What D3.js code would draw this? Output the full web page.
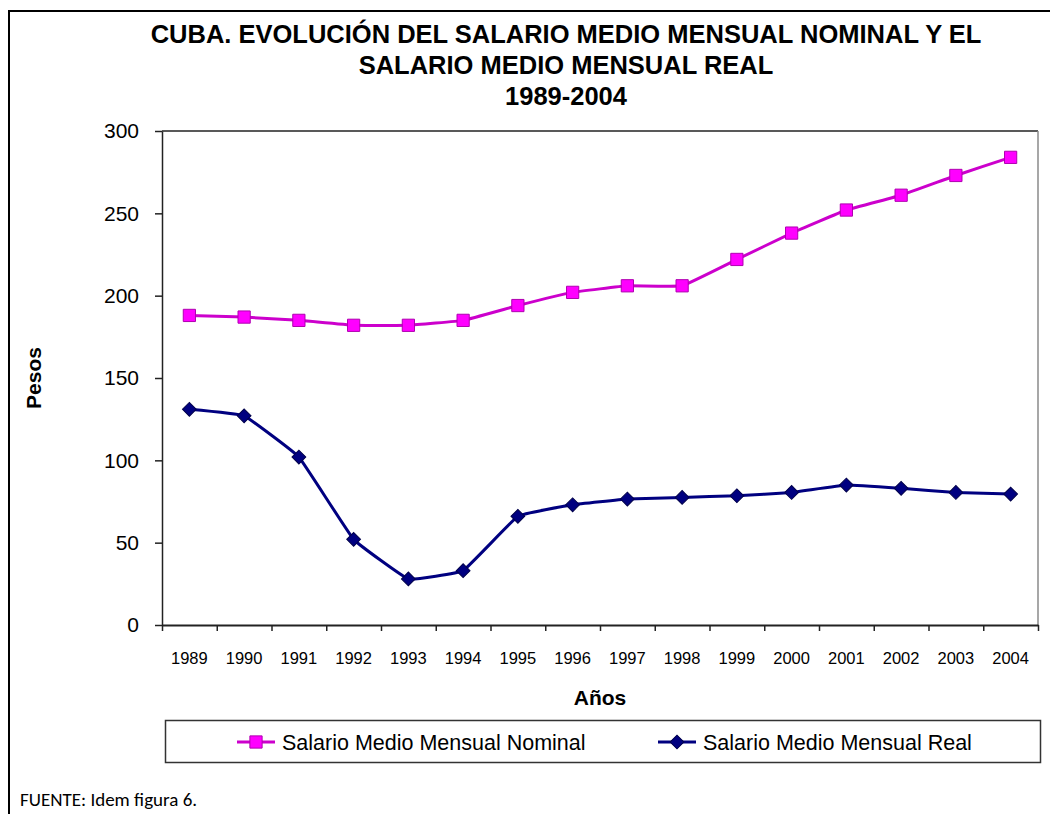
<!DOCTYPE html>
<html>
<head>
<meta charset="utf-8">
<script src="https://cdn.jsdelivr.net/npm/d3@7"></script>
<style>
  body { margin: 0; background: #fff; }
  svg { display: block; }
  text { font-family: "Liberation Sans", Arial, sans-serif; fill: #000; }
</style>
</head>
<body>
<svg width="1050" height="814"></svg>
<script>
// data
var years = ["1989","1990","1991","1992","1993","1994","1995","1996",
             "1997","1998","1999","2000","2001","2002","2003","2004"];
var nominal = [188, 187, 185, 182, 182, 185, 194, 202, 206, 206, 222, 238, 252, 261, 273, 284];
var real = [131, 127, 102, 52, 28, 33, 66, 73, 76.5, 77.5, 78.5, 80.5, 85, 83, 80.5, 79.5];
var yTicks = [0, 50, 100, 150, 200, 250, 300];
var titleLines = ["CUBA. EVOLUCIÓN DEL SALARIO MEDIO MENSUAL NOMINAL Y EL",
                  "SALARIO MEDIO MENSUAL REAL", "1989-2004"];

// diamond = square turned 45 degrees
var series = [
  {name: "Salario Medio Mensual Nominal", values: nominal, line: "#cc00cc", fill: "#ff00ff", edge: "#b000b0", shape: d3.symbolSquare, size: 150, rot: 0},
  {name: "Salario Medio Mensual Real", values: real, line: "#000080", fill: "#000080", edge: "#00004a", shape: d3.symbolSquare, size: 95, rot: 45}
];

var svg = d3.select("svg"),
    width = +svg.attr("width"),
    height = +svg.attr("height");

var plot = {left: 162, right: 1038, top: 131, bottom: 625};

// outer frame (runs off the right and bottom edge in the original)
svg.append("path")
    .attr("d", "M9,820 V11 H1060")
    .attr("fill", "none")
    .attr("stroke", "#000")
    .attr("stroke-width", 2);

// title
svg.append("g").selectAll("text")
    .data(titleLines)
    .enter().append("text")
    .attr("x", 566)
    .attr("y", function(d, i) { return 43 + i * 31; })
    .attr("text-anchor", "middle")
    .style("font-weight", "bold")
    .style("font-size", "25.5px")
    .text(function(d) { return d; });

var x = d3.scaleBand().domain(years).range([plot.left, plot.right]);
var xIdx = d3.scaleLinear().domain([0, years.length]).range([plot.left, plot.right]);
var y = d3.scaleLinear().domain([0, 300]).range([plot.bottom, plot.top]);

function cx(i) { return x(years[i]) + x.bandwidth() / 2; }

// plot area border (top and right)
svg.append("path")
    .attr("d", "M" + plot.left + "," + plot.top + " H" + plot.right)
    .attr("stroke", "#222")
    .attr("stroke-width", 1.5)
    .attr("fill", "none");
svg.append("path")
    .attr("d", "M" + plot.right + "," + plot.top + " V" + plot.bottom)
    .attr("stroke", "#8a8a8a")
    .attr("stroke-width", 1.5)
    .attr("fill", "none");

// y axis
var yAxis = svg.append("g")
    .attr("transform", "translate(" + plot.left + ",0)")
    .call(d3.axisLeft(y).tickValues(yTicks).tickSize(7).tickSizeOuter(0).tickPadding(16));
yAxis.select(".domain").attr("stroke", "#222").attr("stroke-width", 1.5);
yAxis.selectAll(".tick line").attr("stroke", "#222").attr("stroke-width", 1.5);
yAxis.selectAll("text")
    .style("font-size", "21px")
    .style("font-family", "'Liberation Sans', Arial, sans-serif")
    .attr("fill", "#000");

// x axis: tick marks on the category boundaries, labels in the middle
var xTicks = svg.append("g")
    .attr("transform", "translate(0," + plot.bottom + ")")
    .call(d3.axisBottom(xIdx).ticks(years.length).tickSize(6).tickSizeOuter(0).tickFormat(""));
xTicks.select(".domain").attr("stroke", "#222").attr("stroke-width", 2);
xTicks.selectAll(".tick line").attr("stroke", "#222").attr("stroke-width", 1.5);

var xLabels = svg.append("g")
    .attr("transform", "translate(0," + plot.bottom + ")")
    .call(d3.axisBottom(x).tickSize(0).tickPadding(27));
xLabels.select(".domain").remove();
xLabels.selectAll("text")
    .style("font-size", "16.5px")
    .style("font-family", "'Liberation Sans', Arial, sans-serif")
    .attr("fill", "#000");

// axis titles
svg.append("text")
    .attr("x", 600)
    .attr("y", 705)
    .attr("text-anchor", "middle")
    .style("font-weight", "bold")
    .style("font-size", "21px")
    .text("Años");

svg.append("text")
    .attr("transform", "translate(41,378) rotate(-90)")
    .attr("text-anchor", "middle")
    .style("font-weight", "bold")
    .style("font-size", "21px")
    .text("Pesos");

// lines + markers (only lightly smoothed, like the original)
var line = d3.line()
    .x(function(d, i) { return cx(i); })
    .y(function(d) { return y(d); })
    .curve(d3.curveCardinal.tension(0.75));

series.forEach(function(s) {
  svg.append("path")
      .datum(s.values)
      .attr("d", line)
      .attr("fill", "none")
      .attr("stroke", s.line)
      .attr("stroke-width", 3);

  svg.append("g").selectAll("path")
      .data(s.values)
      .enter().append("path")
      .attr("transform", function(d, i) { return "translate(" + cx(i) + "," + y(d) + ") rotate(" + s.rot + ")"; })
      .attr("d", d3.symbol().type(s.shape).size(s.size))
      .attr("fill", s.fill)
      .attr("stroke", s.edge)
      .attr("stroke-width", 1);
});

// legend
var legend = svg.append("g");
legend.append("rect")
    .attr("x", 165.5)
    .attr("y", 720.5)
    .attr("width", 875)
    .attr("height", 42)
    .attr("fill", "#fff")
    .attr("stroke", "#333")
    .attr("stroke-width", 1.5);

var legendX = [237, 658];
var item = legend.selectAll(".item")
    .data(series)
    .enter().append("g")
    .attr("class", "item")
    .attr("transform", function(d, i) { return "translate(" + legendX[i] + ",742)"; });
item.append("line")
    .attr("x1", 0).attr("x2", 38)
    .attr("stroke", function(d) { return d.line; })
    .attr("stroke-width", 3);
item.append("path")
    .attr("transform", function(d) { return "translate(19,0) rotate(" + d.rot + ")"; })
    .attr("d", function(d) { return d3.symbol().type(d.shape).size(d.size)(); })
    .attr("fill", function(d) { return d.fill; })
    .attr("stroke", function(d) { return d.edge; });
item.append("text")
    .attr("x", 45)
    .attr("dy", "0.35em")
    .style("font-size", "21.5px")
    .text(function(d) { return d.name; });

// source note
svg.append("text")
    .attr("x", 20)
    .attr("y", 806)
    .style("font-family", "Carlito, Calibri, 'Open Sans', sans-serif")
    .style("font-size", "19px")
    .text("FUENTE: Idem figura 6.");
</script>
</body>
</html>
